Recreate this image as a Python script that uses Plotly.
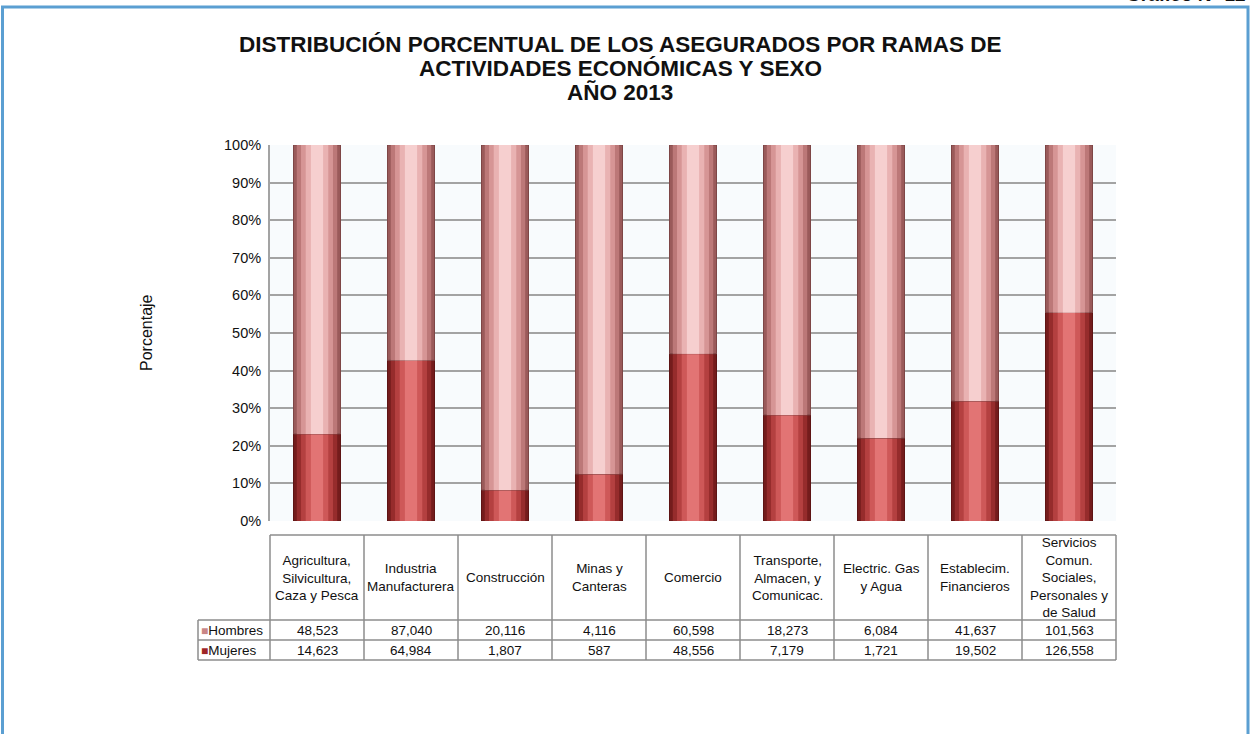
import plotly.graph_objects as go

categorias = [
    "Agricultura,<br>Silvicultura,<br>Caza y Pesca",
    "Industria<br>Manufacturera",
    "Construcción",
    "Minas y<br>Canteras",
    "Comercio",
    "Transporte,<br>Almacen, y<br>Comunicac.",
    "Electric. Gas<br>y Agua",
    "Establecim.<br>Financieros",
    "Servicios<br>Comun.<br>Sociales,<br>Personales y<br>de Salud",
]
hombres = [48523, 87040, 20116, 4116, 60598, 18273, 6084, 41637, 101563]
mujeres = [14623, 64984, 1807, 587, 48556, 7179, 1721, 19502, 126558]
y_ticks = [0, 10, 20, 30, 40, 50, 60, 70, 80, 90, 100]
titulo = [
    "DISTRIBUCIÓN PORCENTUAL DE LOS ASEGURADOS POR RAMAS DE",
    "ACTIVIDADES ECONÓMICAS Y SEXO",
    "AÑO 2013",
]

n = len(categorias)
xs = list(range(n))
pct_m = [m / (h + m) * 100 for h, m in zip(hombres, mujeres)]
pct_h = [100 - p for p in pct_m]

# Plot geometry (pixels)
W, H = 1252, 734
L, R = 270, 1116
T, B = 145, 521
pw, ph = R - L, B - T


def px_x(p):
    return (p - L) / pw


def px_y(p):
    return (B - p) / ph


FONT = "Liberation Sans, Arial, sans-serif"
fig = go.Figure()

bar_w = 0.5
layers = [1.0, 0.86, 0.68, 0.48, 0.26]
col_m = ["#741c1c", "#962c2c", "#b44040", "#ce5858", "#e27474"]
col_h = ["#9a5a5a", "#bc7878", "#d69595", "#e9b2b2", "#f6cfcf"]

for i, f in enumerate(layers):
    fig.add_trace(go.Bar(
        x=xs, y=pct_m, width=bar_w * f,
        marker=dict(color=col_m[i], line=dict(width=1 if i == 0 else 0, color="#5e1414")),
        name="Mujeres", showlegend=False, hoverinfo="skip"))
for i, f in enumerate(layers):
    fig.add_trace(go.Bar(
        x=xs, y=pct_h, base=pct_m, width=bar_w * f,
        marker=dict(color=col_h[i], line=dict(width=1 if i == 0 else 0, color="#7e4646")),
        name="Hombres", showlegend=False, hoverinfo="skip"))

shapes = []
annotations = []

# outer blue frame
shapes.append(dict(type="rect", xref="paper", yref="paper",
                   x0=px_x(2.5), x1=px_x(1248), y0=px_y(760), y1=px_y(7),
                   line=dict(color="#5b9fd2", width=3), fillcolor="rgba(0,0,0,0)", layer="below"))

# table geometry
tbl_left = px_x(198)
col_edges = [i / n for i in range(n + 1)]
y_top = px_y(535)
y_h = px_y(620)
y_m = px_y(640)
y_bot = px_y(660)
grid = "#8c8c8c"
lw = 1.5

shapes.append(dict(type="line", xref="paper", yref="paper", x0=0, x1=1, y0=y_top, y1=y_top,
                   line=dict(color=grid, width=lw)))
for yy in (y_h, y_m, y_bot):
    shapes.append(dict(type="line", xref="paper", yref="paper", x0=tbl_left, x1=1, y0=yy, y1=yy,
                       line=dict(color=grid, width=lw)))
shapes.append(dict(type="line", xref="paper", yref="paper", x0=tbl_left, x1=tbl_left, y0=y_h, y1=y_bot,
                   line=dict(color=grid, width=lw)))
for e in col_edges:
    shapes.append(dict(type="line", xref="paper", yref="paper", x0=e, x1=e, y0=y_top, y1=y_bot,
                       line=dict(color=grid, width=lw)))

tfont = dict(family=FONT, size=13.5, color="#111111")
for i, c in enumerate(categorias):
    annotations.append(dict(x=xs[i], xref="x", y=(y_top + y_h) / 2, yref="paper", text=c,
                            showarrow=False, font=tfont, align="center", yanchor="middle"))
    annotations.append(dict(x=xs[i], xref="x", y=(y_h + y_m) / 2, yref="paper",
                            text=f"{hombres[i]:,}", showarrow=False, font=tfont, yanchor="middle"))
    annotations.append(dict(x=xs[i], xref="x", y=(y_m + y_bot) / 2, yref="paper",
                            text=f"{mujeres[i]:,}", showarrow=False, font=tfont, yanchor="middle"))

annotations.append(dict(x=tbl_left + 0.001, xref="paper", y=(y_h + y_m) / 2, yref="paper",
                        text="<span style='color:#c98686;font-size:12px'>■</span>Hombres",
                        showarrow=False, font=tfont, xanchor="left", yanchor="middle"))
annotations.append(dict(x=tbl_left + 0.001, xref="paper", y=(y_m + y_bot) / 2, yref="paper",
                        text="<span style='color:#9e2626;font-size:12px'>■</span>Mujeres",
                        showarrow=False, font=tfont, xanchor="left", yanchor="middle"))

# title lines
for line, yp in zip(titulo, (44, 68.5, 93)):
    annotations.append(dict(x=px_x(620), xref="paper", y=px_y(yp), yref="paper",
                            text=f"<b>{line}</b>", showarrow=False, align="center", yanchor="middle",
                            font=dict(family=FONT, size=22.5, color="#111111")))
# cut-off top-right label (as in the reference)
annotations.append(dict(x=px_x(1248), xref="paper", y=px_y(-5), yref="paper",
                        text="<b>Gráfico N° 12</b>", showarrow=False, xanchor="right", yanchor="middle",
                        font=dict(family=FONT, size=19, color="#111111")))
# axis title
annotations.append(dict(x=px_x(146), xref="paper", y=px_y(333), yref="paper", text="Porcentaje",
                        textangle=-90, showarrow=False, xanchor="center", yanchor="middle",
                        font=dict(family=FONT, size=16, color="#111111")))

fig.update_layout(
    width=W, height=H,
    margin=dict(l=L, r=W - R, t=T, b=H - B, pad=0),
    paper_bgcolor="white",
    plot_bgcolor="#f8fbfd",
    barmode="overlay",
    showlegend=False,
    shapes=shapes,
    annotations=annotations,
    xaxis=dict(range=[-0.5, n - 0.5], showticklabels=False, showgrid=False, zeroline=False,
               ticks="", fixedrange=True),
    yaxis=dict(range=[0, 100], tickvals=y_ticks, ticktext=[f"{v}%" for v in y_ticks],
               showgrid=True, gridcolor="#a3a3a3", gridwidth=2, zeroline=False,
               showline=True, linecolor="#a3a3a3", linewidth=2,
               ticks="outside", ticklen=4, tickcolor="rgba(0,0,0,0)",
               tickfont=dict(family=FONT, size=14.5, color="#111111"),
               fixedrange=True),
)

fig.write_html("out.html", config={"displayModeBar": False},
               post_script="document.body.style.margin='0px';document.body.style.overflow='hidden';")
